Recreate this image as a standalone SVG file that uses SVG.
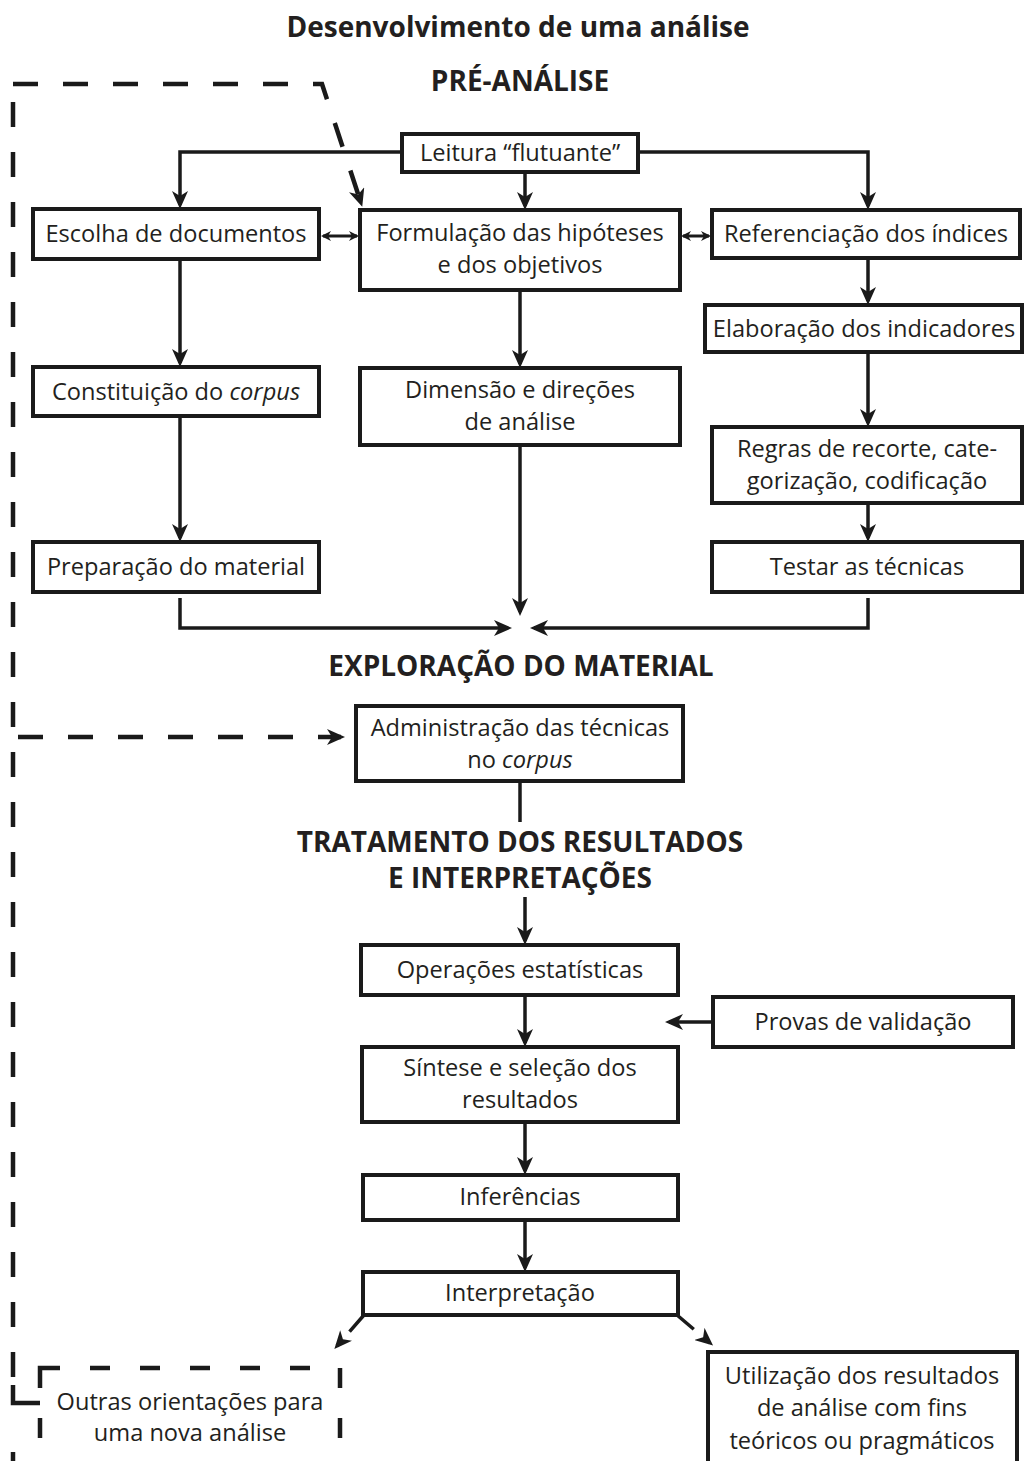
<svg xmlns="http://www.w3.org/2000/svg" width="1025" height="1461" viewBox="0 0 1025 1461">
<style>
.box{fill:#fff;stroke:#1a1a1a;stroke-width:4}
.dbox{fill:none;stroke:#1a1a1a;stroke-width:4.5;stroke-dasharray:20 30}
.t{font-family:"Open Sans","Noto Sans",sans-serif;font-size:23.6px;fill:#231f20;text-anchor:middle}
.h{font-family:"Open Sans","Noto Sans",sans-serif;font-weight:bold;font-size:28px;fill:#231f20;text-anchor:middle}
.c{fill:none;stroke:#1a1a1a;stroke-width:3.5}
.d{fill:none;stroke:#1a1a1a;stroke-width:4.5;stroke-dasharray:25 25}
</style>
<defs>
<marker id="arr" viewBox="0 0 18 16" refX="14" refY="8" markerWidth="18" markerHeight="16" markerUnits="userSpaceOnUse" orient="auto">
<path d="M0,0 L18,8 L0,16 L5,8 Z" fill="#1a1a1a"/>
</marker>
<marker id="sarr" viewBox="0 0 10 10" refX="8" refY="5" markerWidth="10" markerHeight="10" markerUnits="userSpaceOnUse" orient="auto-start-reverse">
<path d="M0,0 L10,5 L0,10 L3,5 Z" fill="#1a1a1a"/>
</marker>
</defs>
<rect width="1025" height="1461" fill="#fff"/>

<g id="titles">
<text class="h" x="518" y="37">Desenvolvimento de uma análise</text>
<text class="h" x="520" y="91">PRÉ-ANÁLISE</text>
<text class="h" x="521" y="676">EXPLORAÇÃO DO MATERIAL</text>
<text class="h" x="520" y="852">TRATAMENTO DOS RESULTADOS</text>
<text class="h" x="520" y="888">E INTERPRETAÇÕES</text>
</g>

<g id="connectors">
<path class="c" d="M402,152 H180 V205" marker-end="url(#arr)"/>
<path class="c" d="M638,152 H868 V206" marker-end="url(#arr)"/>
<path class="c" d="M525,172 V206" marker-end="url(#arr)"/>
<path class="c" d="M323,236 H357" marker-start="url(#sarr)" marker-end="url(#sarr)" style="stroke-width:3"/>
<path class="c" d="M683,236 H709" marker-start="url(#sarr)" marker-end="url(#sarr)" style="stroke-width:3"/>
<path class="c" d="M180,259 V363" marker-end="url(#arr)"/>
<path class="c" d="M180,416 V538" marker-end="url(#arr)"/>
<path class="c" d="M180,598 V628 H508" marker-end="url(#arr)"/>
<path class="c" d="M520,290 V364" marker-end="url(#arr)"/>
<path class="c" d="M520,445 V612" marker-end="url(#arr)"/>
<path class="c" d="M868,258 V301" marker-end="url(#arr)"/>
<path class="c" d="M868,352 V423" marker-end="url(#arr)"/>
<path class="c" d="M868,503 V538" marker-end="url(#arr)"/>
<path class="c" d="M868,598 V628 H534" marker-end="url(#arr)"/>
<path class="c" d="M520,781 V822"/>
<path class="c" d="M525,897 V941" marker-end="url(#arr)"/>
<path class="c" d="M525,995 V1043" marker-end="url(#arr)"/>
<path class="c" d="M713,1022 H669" marker-end="url(#arr)"/>
<path class="c" d="M525,1122 V1171" marker-end="url(#arr)"/>
<path class="c" d="M525,1220 V1268" marker-end="url(#arr)"/>
<path class="c" d="M364,1315 L337,1346" style="stroke-dasharray:22 14" marker-end="url(#arr)"/>
<path class="c" d="M677,1315 L710,1343" style="stroke-dasharray:22 14" marker-end="url(#arr)"/>
<path class="d" d="M13,84 H322 L361,203" marker-end="url(#arr)"/>
<path class="d" d="M13,102 V1380"/>
<path class="c" d="M13,1385 V1403 H40" style="stroke-width:4.5"/>
<path class="c" d="M13,1452 V1461" style="stroke-width:4.5"/>
<path class="d" d="M18,737 H341" marker-end="url(#arr)"/>
</g>

<g id="n-leitura">
<rect class="box" x="402" y="134" width="236" height="38"/>
<text class="t" x="520" y="161">Leitura “flutuante”</text>
</g>
<g id="n-escolha">
<rect class="box" x="33" y="209" width="286" height="50"/>
<text class="t" x="176" y="242">Escolha de documentos</text>
</g>
<g id="n-formulacao">
<rect class="box" x="360" y="210" width="320" height="80"/>
<text class="t" x="520" y="241">Formulação das hipóteses</text>
<text class="t" x="520" y="273">e dos objetivos</text>
</g>
<g id="n-referenciacao">
<rect class="box" x="712" y="210" width="308" height="48"/>
<text class="t" x="866" y="242">Referenciação dos índices</text>
</g>
<g id="n-elaboracao">
<rect class="box" x="705" y="305" width="317" height="47"/>
<text class="t" x="864" y="337">Elaboração dos indicadores</text>
</g>
<g id="n-constituicao">
<rect class="box" x="33" y="367" width="286" height="49"/>
<text class="t" x="176" y="400">Constituição do <tspan font-style="italic">corpus</tspan></text>
</g>
<g id="n-dimensao">
<rect class="box" x="360" y="368" width="320" height="77"/>
<text class="t" x="520" y="398">Dimensão e direções</text>
<text class="t" x="520" y="430">de análise</text>
</g>
<g id="n-regras">
<rect class="box" x="712" y="427" width="310" height="76"/>
<text class="t" x="867" y="457">Regras de recorte, cate-</text>
<text class="t" x="867" y="489">gorização, codificação</text>
</g>
<g id="n-preparacao">
<rect class="box" x="33" y="542" width="286" height="50"/>
<text class="t" x="176" y="575">Preparação do material</text>
</g>
<g id="n-testar">
<rect class="box" x="712" y="542" width="310" height="50"/>
<text class="t" x="867" y="575">Testar as técnicas</text>
</g>
<g id="n-administracao">
<rect class="box" x="356" y="706" width="327" height="75"/>
<text class="t" x="520" y="736">Administração das técnicas</text>
<text class="t" x="520" y="768">no <tspan font-style="italic">corpus</tspan></text>
</g>
<g id="n-operacoes">
<rect class="box" x="361" y="945" width="317" height="50"/>
<text class="t" x="520" y="978">Operações estatísticas</text>
</g>
<g id="n-provas">
<rect class="box" x="713" y="997" width="300" height="50"/>
<text class="t" x="863" y="1030">Provas de validação</text>
</g>
<g id="n-sintese">
<rect class="box" x="362" y="1047" width="316" height="75"/>
<text class="t" x="520" y="1076">Síntese e seleção dos</text>
<text class="t" x="520" y="1108">resultados</text>
</g>
<g id="n-inferencias">
<rect class="box" x="363" y="1175" width="315" height="45"/>
<text class="t" x="520" y="1205">Inferências</text>
</g>
<g id="n-interpretacao">
<rect class="box" x="363" y="1272" width="315" height="43"/>
<text class="t" x="520" y="1301">Interpretação</text>
</g>
<g id="n-outras">
<rect class="dbox" x="40" y="1368" width="300" height="110"/>
<text class="t" x="190" y="1410">Outras orientações para</text>
<text class="t" x="190" y="1441">uma nova análise</text>
</g>
<g id="n-utilizacao">
<rect class="box" x="708" y="1352" width="309" height="130"/>
<text class="t" x="862" y="1384">Utilização dos resultados</text>
<text class="t" x="862" y="1416">de análise com fins</text>
<text class="t" x="862" y="1449">teóricos ou pragmáticos</text>
</g>
</svg>
